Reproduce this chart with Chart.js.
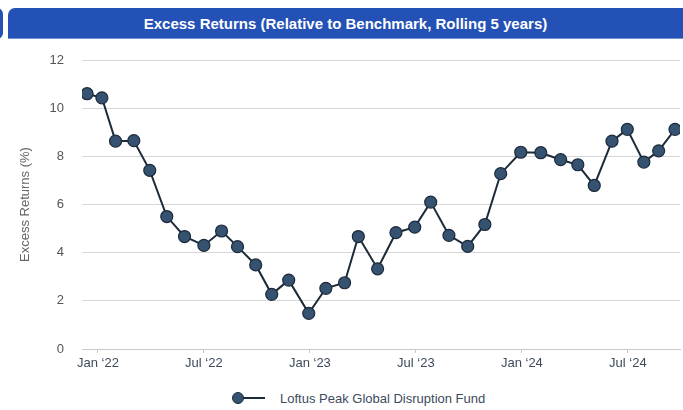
<!DOCTYPE html>
<html>
<head>
<meta charset="utf-8">
<script src="https://cdn.jsdelivr.net/npm/chart.js@4"></script>
<style>
  body { margin: 0; width: 683px; height: 410px; background: #fff; position: relative; overflow: hidden; font-family: "Liberation Sans", Arial, sans-serif; }
  .sliver { position: absolute; left: -10px; top: 8px; width: 13px; height: 31px; background: #2351b6; border-radius: 0 6px 6px 0; }
  .titlebar { position: absolute; left: 8px; top: 8px; width: 700px; height: 31px; background: #2351b6; border-radius: 7px 0 0 0; border-bottom: 1px solid #6f8fd0; box-sizing: border-box; }
  .titlebar span { position: absolute; left: 0; width: 675px; top: 7px; text-align: center; color: #fff; font-weight: bold; font-size: 15px; }
  #wrap { position: absolute; left: 0; top: 40px; width: 683px; height: 345px; }
  .legend { position: absolute; top: 389px; left: 232px; height: 18px; display: flex; align-items: center; font-size: 13px; color: #3d4a5c; }
  .legend .mark { position: relative; width: 34px; height: 12px; margin-right: 14px; }
  .legend .mark i { position: absolute; left: 6px; top: 5px; width: 27px; height: 2px; background: #1c2b3a; }
  .legend .mark b { position: absolute; left: 0; top: 0; width: 10px; height: 10px; border-radius: 50%; background: #365271; border: 1px solid #1c2b3a; }
</style>
</head>
<body>
<div class="sliver"></div>
<div class="titlebar"><span>Excess Returns (Relative to Benchmark, Rolling 5 years)</span></div>
<div id="wrap"><canvas id="chart"></canvas></div>
<div class="legend"><div class="mark"><i></i><b></b></div>Loftus Peak Global Disruption Fund</div>
<script>
const dates = [
  '2021-12-13', '2022-01-08', '2022-02-01', '2022-03-02', '2022-03-30', '2022-04-28', '2022-05-29',
  '2022-07-01', '2022-08-01', '2022-08-29', '2022-09-29', '2022-10-27', '2022-11-25', '2022-12-30',
  '2023-01-29', '2023-02-28', '2023-03-24', '2023-04-26', '2023-05-28', '2023-06-29', '2023-07-27',
  '2023-08-28', '2023-09-29', '2023-10-29', '2023-11-25', '2023-12-30', '2024-02-03', '2024-03-07',
  '2024-04-06', '2024-05-04', '2024-06-04', '2024-06-30', '2024-07-29', '2024-08-24', '2024-09-21'
];
const excessReturns = [
  10.6, 10.43, 8.63, 8.65, 7.42, 5.5, 4.67,
  4.3, 4.9, 4.25, 3.49, 2.27, 2.86, 1.48,
  2.52, 2.75, 4.67, 3.33, 4.83, 5.06, 6.1,
  4.72, 4.26, 5.17, 7.28, 8.17, 8.15, 7.86,
  7.65, 6.79, 8.63, 9.12, 7.76, 8.23, 9.12
];
const tickDates = ['2022-01-01', '2022-07-01', '2023-01-01', '2023-07-01', '2024-01-01', '2024-07-01'];
const tickLabels = ['Jan \u201822', 'Jul \u201822', 'Jan \u201823', 'Jul \u201823', 'Jan \u201824', 'Jul \u201824'];
const seriesName = 'Loftus Peak Global Disruption Fund';

// months since Jan 2022, so a linear axis can place the dates
function toMonths(s) {
  const [y, m, d] = s.split('-').map(Number);
  const dim = new Date(y, m, 0).getDate();
  return (y - 2022) * 12 + (m - 1) + (d - 1) / dim;
}

const points = dates.map((d, i) => ({ x: toMonths(d), y: excessReturns[i] }));
const tickVals = tickDates.map(toMonths);

new Chart(document.getElementById('chart'), {
  type: 'line',
  data: {
    datasets: [{
      label: seriesName,
      data: points,
      borderColor: '#1c2b3a',
      borderWidth: 2,
      pointRadius: 6,
      pointBackgroundColor: '#365271',
      pointBorderColor: '#1c2b3a',
      pointBorderWidth: 1.2,
      tension: 0
    }]
  },
  options: {
    responsive: true,
    maintainAspectRatio: false,
    animation: false,
    layout: { autoPadding: false, padding: { top: 20, right: 3, bottom: 0, left: 0 } },
    plugins: { legend: { display: false }, tooltip: { enabled: false } },
    scales: {
      x: {
        type: 'linear',
        min: -0.9,
        max: 32.95,
        afterBuildTicks: s => { s.ticks = tickVals.map(v => ({ value: v })); },
        afterFit: s => { s.height = 36; s.paddingLeft = 0; s.paddingRight = 0; },
        grid: { drawOnChartArea: false, drawTicks: true, tickLength: 4, color: '#c8c8c8' },
        border: { color: '#c8c8c8' },
        ticks: {
          padding: 3,
          maxRotation: 0,
          autoSkip: false,
          color: '#3d4a5c',
          font: { family: 'Liberation Sans', size: 13 },
          callback: (v, i) => tickLabels[i]
        }
      },
      y: {
        min: 0,
        max: 12,
        afterFit: s => { s.width = 82; s.paddingTop = 0; s.paddingBottom = 0; },
        grid: { color: '#d6d6d6', drawTicks: false },
        border: { display: false },
        ticks: {
          stepSize: 2,
          padding: 18,
          color: '#555',
          font: { family: 'Liberation Sans', size: 13 }
        },
        title: {
          display: true,
          text: 'Excess Returns (%)',
          color: '#666',
          padding: { top: 18, bottom: 0 },
          font: { family: 'Liberation Sans', size: 13 }
        }
      }
    }
  }
});
</script>
</body>
</html>
